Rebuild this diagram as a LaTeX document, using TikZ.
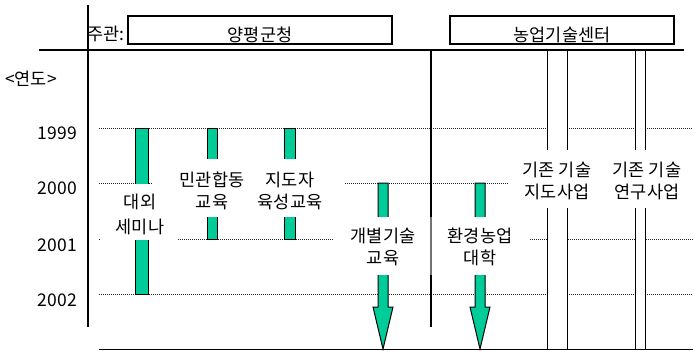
\documentclass[tikz,border=0pt]{standalone}
\usepackage{fontspec}
\setmainfont{Noto Sans CJK KR}
\definecolor{barg}{RGB}{0,204,153}
\begin{document}
\begin{tikzpicture}[x=1pt,y=-1pt,
  every node/.style={font=\fontsize{17.5}{22}\selectfont, inner sep=0pt, align=center},
  dotl/.style={line width=0.9pt, dash pattern=on 1pt off 1pt, black!85},
  axis/.style={line width=1.4pt},
  bar/.style={fill=barg, draw=black, line width=1pt},
  cover/.style={fill=white},
  hbox/.style={draw, line width=1.5pt},
  dbl/.style={line width=1pt}]
\useasboundingbox (0,0) rectangle (694,351);
% dotted year lines
\draw[dotl] (99,128) -- (693,128);
\draw[dotl] (99,183) -- (153,183) (345,183) -- (508,183);
\draw[dotl] (99,239) -- (101,239) (178,239) -- (333,239) (530,239) -- (693,239);
\draw[dotl] (99,294) -- (693,294);
% double lines (existing programmes)
\fill[white] (547,50) rectangle (567,150) (547,208) rectangle (567,350);
\fill[white] (635,50) rectangle (645,150) (635,208) rectangle (645,350);
\draw[dbl] (547,50) -- (547,150) (567,50) -- (567,150) (547,208) -- (547,350) (567,208) -- (567,350);
\draw[dbl] (635,50) -- (635,150) (645,50) -- (645,150) (635,208) -- (635,350) (645,208) -- (645,350);
% axes
\draw[axis] (88,5) -- (88,327);
\draw[axis] (39,50) -- (684,50);
\draw[axis] (99,349.5) -- (693,349.5);
\draw[axis] (431,50) -- (431,217);
\draw[axis, black!55] (431,217) -- (431,275);
\draw[axis] (431,275) -- (431,327);
% header boxes
\draw[hbox] (128,16) rectangle (392,44);
\draw[hbox] (450,16) rectangle (674,44);
\node (jg) at (106,34) {주관:};
\node (yp) at (260,35) {양평군청};
\node (ng) at (562,35) {농업기술센터};
\node (yd) at (31,79) {<연도>};
% years
\node[anchor=east] (y1999) at (77,133) {1999};
\node[anchor=east] (y2000) at (77,188) {2000};
\node[anchor=east] (y2001) at (77,245) {2001};
\node[anchor=east] (y2002) at (77,300) {2002};
% bars
\draw[bar] (135,128) rectangle (148,294);
\draw[bar] (207,128) rectangle (217,239);
\draw[bar] (284,128) rectangle (295,239);
\draw[bar] (378,183) -- (388,183) -- (388,307) -- (393,307) -- (383,349) -- (373,307) -- (378,307) -- cycle;
\draw[bar] (475,183) -- (485,183) -- (485,307) -- (490,307) -- (480,349) -- (470,307) -- (475,307) -- cycle;
% covers for labels
\fill[cover] (130,184) rectangle (153,240);
\fill[cover] (202,159) rectangle (222,217);
\fill[cover] (279,159) rectangle (300,217);
\fill[cover] (370,217) rectangle (396,275);
\fill[cover] (467,217) rectangle (493,275);
% labels
\node (dw) at (140,214) {대외\\[3pt]세미나};
\node (mg) at (212,191) {민관합동\\교육};
\node (jd) at (290,191) {지도자\\육성교육};
\node (gb) at (383,247) {개별기술\\교육};
\node (hg) at (480,247) {환경농업\\대학};
\node (gj) at (557,181) {기존 기술\\지도사업};
\node (gy) at (647,181) {기존 기술\\연구사업};
\end{tikzpicture}
\end{document}
